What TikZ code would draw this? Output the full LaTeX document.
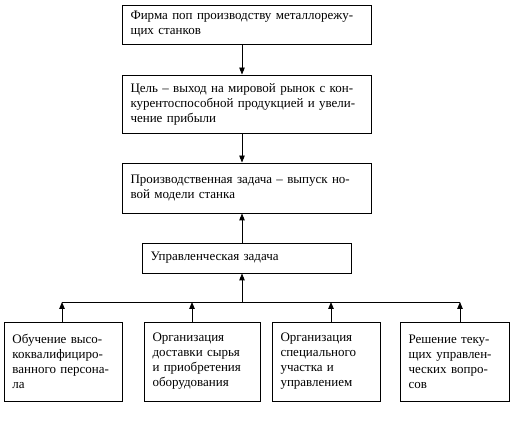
\documentclass[tikz,border=0pt]{standalone}
\usepackage{fontspec}
\setmainfont{Liberation Serif}
\usetikzlibrary{arrows.meta}
\begin{document}
\begin{tikzpicture}[x=1pt,y=-1pt,
  box/.style={draw, line width=0.9pt, inner xsep=8.5pt, inner ysep=0pt, align=left,
    font=\fontsize{13}{15}\selectfont, anchor=center},
  arr/.style={line width=0.9pt, -{Triangle[length=7pt,width=5.5pt]}},
  ln/.style={line width=0.9pt}]
\useasboundingbox (0,0) rectangle (522,427);
\node[box, text width=232pt, minimum height=39pt] (b1) at (246.5,24.5)
  {Фирма поп производству металлорежу-\\щих станков};
\node[box, text width=232pt, minimum height=58pt] (b2) at (246.5,104)
  {Цель – выход на мировой рынок с кон-\\курентоспособной продукцией и увели-\\чение прибыли};
\node[box, text width=232pt, minimum height=50pt] (b3) at (246.5,188)
  {Производственная задача – выпуск но-\\вой модели станка\\[5pt]};
\node[box, text width=192pt, minimum height=30pt] (b4) at (246.5,258)
  {Управленческая задача};
\node[box, text width=101pt, minimum height=79pt] (a) at (63,361.5)
  {Обучение высо-\\коквалифициро-\\ванного персона-\\ла};
\node[box, text width=99pt, minimum height=79pt] (b) at (202,361.5)
  {Организация\\доставки сырья\\и приобретения\\оборудования};
\node[box, text width=91pt, minimum height=79pt] (c) at (326,361.5)
  {Организация\\специального\\участка и\\управлением};
\node[box, text width=92pt, minimum height=79pt] (d) at (454.5,361.5)
  {Решение теку-\\щих управлен-\\ческих вопро-\\сов};
\coordinate (busL) at (62,302);
\coordinate (busR) at (460,302);
\coordinate (busM) at (242,302);
\draw[arr] (b1.south -| busM) -- (b2.north -| busM);
\draw[arr] (b2.south -| busM) -- (b3.north -| busM);
\draw[arr] (b4.north -| busM) -- (b3.south -| busM);
\draw[arr] (busM) -- (b4.south -| busM);
\draw[ln] (busL) -- (busR);
\draw[arr] (a.north -| busL) -- (busL);
\draw[arr] (b.north -| 192,0) -- (192,302);
\draw[arr] (c.north -| 331,0) -- (331,302);
\draw[arr] (d.north -| busR) -- (busR);
\end{tikzpicture}
\end{document}
